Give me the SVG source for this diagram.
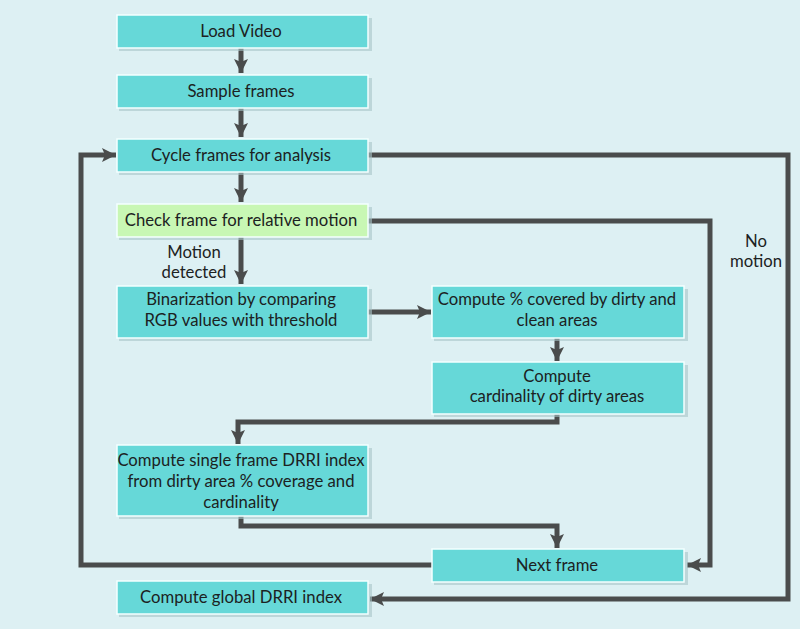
<svg xmlns="http://www.w3.org/2000/svg" width="800" height="629" viewBox="0 0 800 629">
<defs>
<marker id="ah" markerUnits="userSpaceOnUse" markerWidth="16" markerHeight="16" viewBox="0 0 16 16" refX="14" refY="8" orient="auto">
<path d="M0,1 L14,8 L0,15 L3,8 Z" fill="#4a4c4c"/>
</marker>
</defs>
<style>
.bg{fill:#ddf0f3}
.box{fill:#66d8d8;stroke:#f4ffff;stroke-width:1.5}
.green{fill:#c8f7b4;stroke:#f4ffff;stroke-width:1.5}
.sh{fill:#a9c4c8;opacity:0.6}
.t{font-family:Lato,"Open Sans","Liberation Sans",sans-serif;font-size:16.7px;fill:#1c2222;text-anchor:middle}
.c{fill:none;stroke:#4a4c4c;stroke-width:5}
</style>
<rect class="bg" x="0" y="0" width="800" height="629"/>
<g id="connectors">
<path class="c" d="M241,48 V73" marker-end="url(#ah)"/>
<path class="c" d="M241,108 V137" marker-end="url(#ah)"/>
<path class="c" d="M241,172 V202" marker-end="url(#ah)"/>
<path class="c" d="M241,237 V284" marker-end="url(#ah)"/>
<path class="c" d="M368,155 H788 V599 H370" marker-end="url(#ah)"/>
<path class="c" d="M368,221 H710 V565 H687" marker-end="url(#ah)"/>
<path class="c" d="M368,312 H431" marker-end="url(#ah)"/>
<path class="c" d="M557,338 V361" marker-end="url(#ah)"/>
<path class="c" d="M557,414 V422 H238 V444" marker-end="url(#ah)"/>
<path class="c" d="M241,516 V526 H557 V548" marker-end="url(#ah)"/>
<path class="c" d="M432,565 H81 V155 H116" marker-end="url(#ah)"/>
<text class="t" x="194" y="258">Motion</text>
<text class="t" x="194" y="278">detected</text>
<text class="t" x="756" y="247">No</text>
<text class="t" x="756" y="267">motion</text>
</g>
<g id="load-video">
<rect class="sh" x="119" y="18" width="253" height="33"/>
<rect class="box" x="117" y="15" width="251" height="33"/>
<text class="t" x="241" y="37">Load Video</text>
</g>
<g id="sample-frames">
<rect class="sh" x="119" y="78" width="253" height="33"/>
<rect class="box" x="117" y="75" width="251" height="33"/>
<text class="t" x="241" y="97">Sample frames</text>
</g>
<g id="cycle-frames">
<rect class="sh" x="119" y="142" width="253" height="33"/>
<rect class="box" x="117" y="139" width="251" height="33"/>
<text class="t" x="241" y="161">Cycle frames for analysis</text>
</g>
<g id="check-frame">
<rect class="sh" x="119" y="207" width="253" height="33"/>
<rect class="green" x="117" y="204" width="251" height="33"/>
<text class="t" x="241" y="226">Check frame for relative motion</text>
</g>
<g id="binarization">
<rect class="sh" x="119" y="289" width="253" height="52"/>
<rect class="box" x="117" y="286" width="251" height="52"/>
<text class="t" x="241" y="305">Binarization by comparing</text>
<text class="t" x="241" y="326">RGB values with threshold</text>
</g>
<g id="compute-percent">
<rect class="sh" x="434" y="289" width="254" height="52"/>
<rect class="box" x="432" y="286" width="252" height="52"/>
<text class="t" x="557" y="305">Compute % covered by dirty and</text>
<text class="t" x="557" y="326">clean areas</text>
</g>
<g id="compute-cardinality">
<rect class="sh" x="434" y="365" width="254" height="52"/>
<rect class="box" x="432" y="362" width="252" height="52"/>
<text class="t" x="557" y="382">Compute</text>
<text class="t" x="557" y="402">cardinality of dirty areas</text>
</g>
<g id="single-frame-drri">
<rect class="sh" x="119" y="448" width="253" height="71"/>
<rect class="box" x="117" y="445" width="251" height="71"/>
<text class="t" x="241" y="466">Compute single frame DRRI index</text>
<text class="t" x="241" y="487">from dirty area % coverage and</text>
<text class="t" x="241" y="508">cardinality</text>
</g>
<g id="next-frame">
<rect class="sh" x="434" y="552" width="254" height="33"/>
<rect class="box" x="432" y="549" width="252" height="33"/>
<text class="t" x="557" y="571">Next frame</text>
</g>
<g id="global-drri">
<rect class="sh" x="119" y="584" width="253" height="33"/>
<rect class="box" x="117" y="581" width="251" height="33"/>
<text class="t" x="241" y="603">Compute global DRRI index</text>
</g>
</svg>
